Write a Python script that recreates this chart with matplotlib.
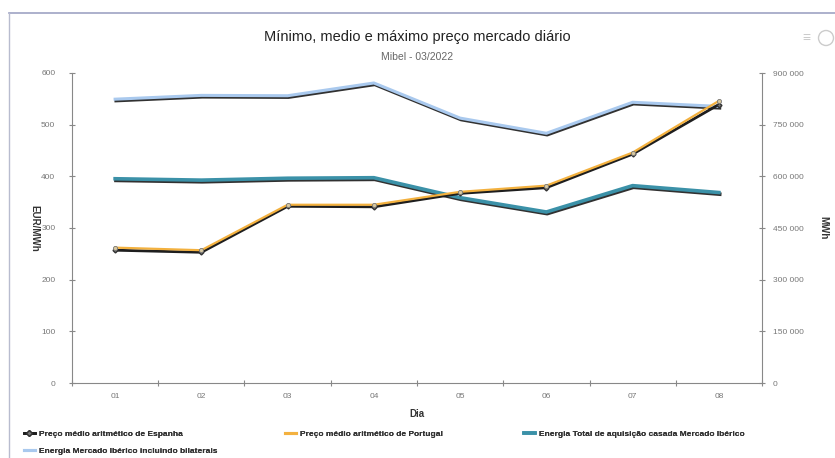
import matplotlib
matplotlib.use("Agg")
import matplotlib.pyplot as plt
import matplotlib.patheffects as pe
from matplotlib.lines import Line2D
from matplotlib.patches import Circle
from matplotlib.ticker import FuncFormatter, FixedLocator
import numpy as np

plt.rcParams["font.family"] = ["Liberation Sans", "DejaVu Sans"]

dias = ["01", "02", "03", "04", "05", "06", "07", "08"]
preco_espanha = [257, 253, 342, 341, 367, 378, 443, 539]
preco_portugal = [262, 257, 345, 345, 370, 382, 446, 546]
energia_casada = [593000, 589000, 594500, 596000, 538000, 496500, 573000, 553000]
energia_bilaterais = [824000, 835000, 834000, 871000, 769000, 725000, 815000, 803000]

labels = ["Preço médio aritmético de Espanha",
          "Preço médio aritmético de Portugal",
          "Energia Total de aquisição casada Mercado Ibérico",
          "Energia Mercado Ibérico incluindo bilaterais"]

W, H = 835, 458
fig = plt.figure(figsize=(W / 100, H / 100), dpi=100)
ax = fig.add_axes([72 / W, 1 - 383 / H, 690 / W, 310 / H])
ax2 = ax.twinx()

x = np.arange(len(dias))
shadow = [pe.SimpleLineShadow(offset=(0.6, -1.2), shadow_color="#1a1a1a", alpha=0.9), pe.Normal()]

# energy lines on the right axis
ax2.plot(x, energia_bilaterais, color="#a9c9ee", lw=2.2, path_effects=shadow, zorder=2)
ax2.plot(x, energia_casada, color="#3b91a8", lw=2.6, path_effects=shadow, zorder=2)

# price lines on the left axis (drawn above the energy axes)
ax.set_zorder(ax2.get_zorder() + 1)
ax.patch.set_visible(False)
ax.plot(x, preco_espanha, color="#1e1e1e", lw=2.0, marker="D", ms=2.5,
        mfc="#777777", mec="#333333", zorder=3)
ax.plot(x, preco_portugal, color="#f3b13f", lw=1.6, marker="o", ms=3,
        mfc="#d9c9a0", mec="#777777", mew=0.6, zorder=4)

ax.set_xlim(-0.5, len(dias) - 0.5)
ax.set_ylim(0, 600)
ax2.set_ylim(0, 900000)
ax.set_yticks(range(0, 601, 100))
ax2.set_yticks(range(0, 900001, 150000))
ax2.yaxis.set_major_formatter(FuncFormatter(lambda v, _: f"{int(v):,}".replace(",", " ")))

ax.xaxis.set_major_locator(FixedLocator(np.arange(-0.5, len(dias), 1.0)))
ax.set_xticklabels([])
ax.xaxis.set_minor_locator(FixedLocator(x))
ax.set_xticklabels(dias, minor=True)
ax.tick_params(axis="x", which="minor", length=0, pad=7, labelsize=6, labelcolor="#777777")
ax.tick_params(axis="x", which="major", length=4, color="#888888", direction="inout")
ax.tick_params(axis="y", length=4, color="#888888", direction="inout", labelsize=6,
               labelcolor="#777777", pad=10)
ax2.tick_params(axis="y", length=4, color="#888888", direction="inout", labelsize=6,
                labelcolor="#777777", pad=6)

for a in (ax, ax2):
    a.spines["top"].set_visible(False)
    for s in ("left", "right", "bottom"):
        a.spines[s].set_color("#888888")
        a.spines[s].set_linewidth(0.8)
ax.spines["right"].set_visible(False)
ax2.spines["left"].set_visible(False)
ax2.spines["bottom"].set_visible(False)

ax.set_xlabel("Dia", fontsize=7, fontweight="bold", color="#333333", labelpad=7)
ax.set_ylabel("EUR/MWh", fontsize=7, fontweight="bold", color="#333333", rotation=-90,
              labelpad=5, va="center")
ax2.set_ylabel("MWh", fontsize=7, fontweight="bold", color="#333333", rotation=-90,
               labelpad=14, va="center")

fig.text(0.5, 1 - 37 / H, "Mínimo, medio e máximo preço mercado diário", ha="center",
         va="center", fontsize=10.5, color="#222222")
fig.text(0.5, 1 - 57 / H, "Mibel - 03/2022", ha="center", va="center", fontsize=7.5,
         color="#666666")

# export icons
fig.text(806 / W, 1 - 38 / H, "≡", ha="center", va="center", fontsize=10, color="#cccccc")
fig.patches.append(Circle((826 / 100, (H - 38) / 100), 0.075, transform=fig.dpi_scale_trans,
                          fill=False, ec="#cccccc", lw=1))

# card frame
fig.add_artist(Line2D([9 / W, 1], [1 - 13 / H, 1 - 13 / H], color="#9ea3c4", lw=1.2))
fig.add_artist(Line2D([9 / W, 9 / W], [0, 1 - 13 / H], color="#b8bccf", lw=1.0))

# legend entries, placed like the original
handles = [Line2D([], [], color="#1e1e1e", lw=2, marker="D", ms=3, mfc="#777777", mec="#333333"),
           Line2D([], [], color="#f3b13f", lw=2.2),
           Line2D([], [], color="#3b91a8", lw=2.6),
           Line2D([], [], color="#a9c9ee", lw=2.2)]
spots = [(24, 430), (285, 430), (524, 430), (24, 447)]
leg_kw = dict(frameon=False, prop={"size": 6, "weight": "bold"}, labelcolor="#333333",
              handlelength=1.3, handletextpad=0.5, borderaxespad=0, borderpad=0)
for h, lab, (px, py) in zip(handles, labels, spots):
    leg = fig.legend([h], [lab], loc="upper left", bbox_to_anchor=(px / W, 1 - py / H), **leg_kw)
    fig.add_artist(leg)

fig.savefig("out.png", dpi=100)
